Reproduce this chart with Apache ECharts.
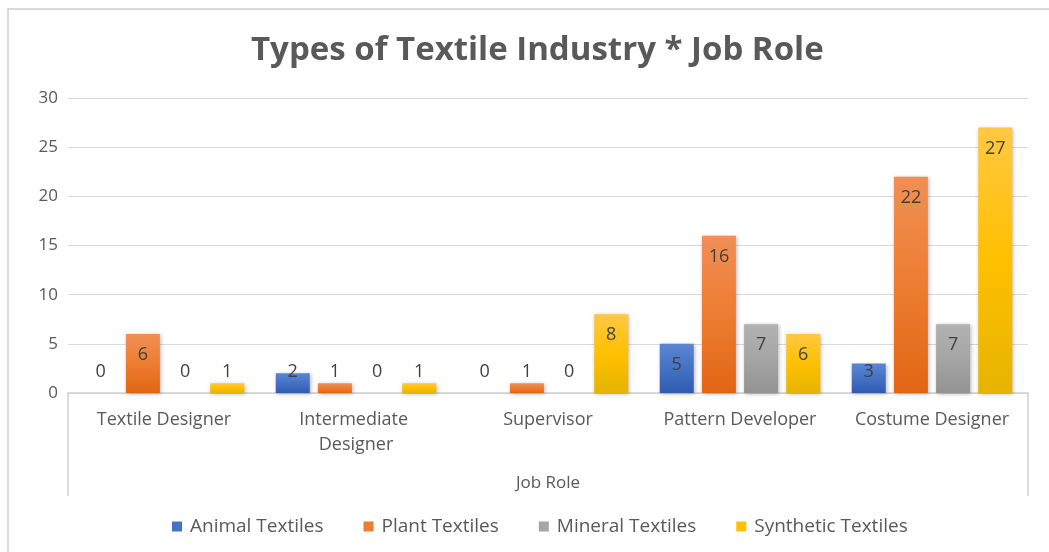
<!DOCTYPE html>
<html><head><meta charset="utf-8">
<script src="https://cdn.jsdelivr.net/npm/echarts@6/dist/echarts.min.js"></script>
<style>html,body{margin:0;padding:0;background:#fff}#c{width:1049px;height:552px}</style>
</head><body><div id="c"></div>
<script>
const categories = ['Textile Designer', 'Intermediate Designer', 'Supervisor', 'Pattern Developer', 'Costume Designer'];
const animal = [0, 2, 0, 5, 3];
const plant = [6, 1, 1, 16, 22];
const mineral = [0, 0, 0, 7, 7];
const synthetic = [1, 1, 8, 6, 27];
const yTicks = [0, 5, 10, 15, 20, 25, 30];

const font = 'Open Sans';
function grad(top, mid, bot) {
  return new echarts.graphic.LinearGradient(0, 0, 0, 1, [
    {offset: 0, color: top}, {offset: 0.5, color: mid}, {offset: 1, color: bot}
  ]);
}
function mkSeries(name, vals, g) {
  return {
    name: name, type: 'bar', barWidth: 34, barGap: '24%',
    itemStyle: {color: g, shadowBlur: 4, shadowColor: 'rgba(0,0,0,0.28)', shadowOffsetX: 1, shadowOffsetY: 1},
    data: vals.map(v => ({
      value: v,
      label: v >= 5 ? {position: 'insideTop', distance: 12} : {position: 'insideBottom', distance: 12}
    })),
    label: {show: true, fontFamily: font, fontSize: 18, color: '#404040'}
  };
}
const chart = echarts.init(document.getElementById('c'));
chart.setOption({
  backgroundColor: '#fff',
  animation: false,
  color: ['#4472C4', '#ED7D31', '#A5A5A5', '#FFC000'],
  title: {
    text: 'Types of Textile Industry * Job Role', left: 246, top: 29,
    textStyle: {fontFamily: font, fontSize: 33, fontWeight: 'bold', color: '#595959'}
  },
  legend: {
    bottom: 11, left: 167, itemWidth: 10, itemHeight: 10, itemGap: 40,
    icon: 'rect',
    textStyle: {fontFamily: font, fontSize: 19, color: '#595959', padding: [0, 0, 0, 3]},
    data: [
      {name: 'Animal Textiles', itemStyle: {color: '#4472C4'}},
      {name: 'Plant Textiles', itemStyle: {color: '#ED7D31'}},
      {name: 'Mineral Textiles', itemStyle: {color: '#A5A5A5'}},
      {name: 'Synthetic Textiles', itemStyle: {color: '#FFC000'}}
    ]
  },
  grid: {left: 68, right: 21, top: 98, bottom: 159},
  xAxis: {
    type: 'category', data: categories,
    name: 'Job Role', nameLocation: 'middle', nameGap: 82,
    nameTextStyle: {fontFamily: font, fontSize: 17, color: '#595959'},
    axisLine: {lineStyle: {color: '#D0D0D0', width: 1.5}},
    axisTick: {show: false},
    axisLabel: {fontFamily: font, fontSize: 18, color: '#595959', margin: 14, width: 172, overflow: 'break', lineHeight: 25, interval: 0}
  },
  yAxis: {
    type: 'value', min: yTicks[0], max: yTicks[yTicks.length - 1], interval: 5,
    axisLine: {show: false}, axisTick: {show: false},
    axisLabel: {fontFamily: font, fontSize: 17, color: '#595959', margin: 10},
    splitLine: {lineStyle: {color: '#D9D9D9', width: 1}}
  },
  graphic: [
    {type: 'rect', shape: {x: 8, y: 9, width: 1060, height: 560}, style: {fill: 'none', stroke: '#D9D9D9', lineWidth: 2}, silent: true},
    {type: 'line', shape: {x1: 68, y1: 393, x2: 68, y2: 496}, style: {stroke: '#D0D0D0', lineWidth: 1.5}, silent: true},
    {type: 'line', shape: {x1: 1028, y1: 393, x2: 1028, y2: 496}, style: {stroke: '#D0D0D0', lineWidth: 1.5}, silent: true}
  ],
  series: [
    mkSeries('Animal Textiles', animal, grad('#5B86D2', '#4472C4', '#2F5BB0')),
    mkSeries('Plant Textiles', plant, grad('#F08F55', '#ED7D31', '#E06614')),
    mkSeries('Mineral Textiles', mineral, grad('#B2B2B2', '#A5A5A5', '#939393')),
    mkSeries('Synthetic Textiles', synthetic, grad('#FFC842', '#FFC000', '#E6B400'))
  ]
});
</script></body></html>
